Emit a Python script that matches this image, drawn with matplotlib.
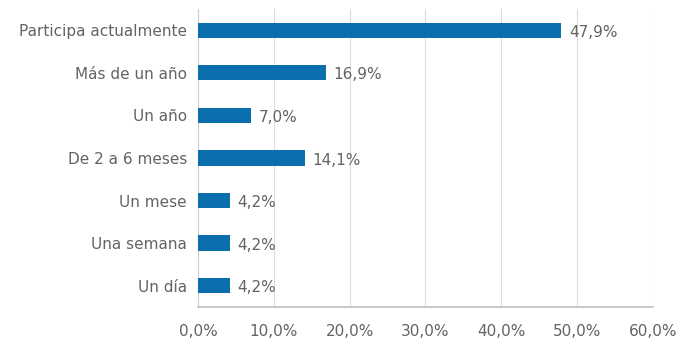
import matplotlib
matplotlib.use("Agg")
import matplotlib.pyplot as plt
from matplotlib.ticker import FuncFormatter

# Datos
categorias = ["Participa actualmente", "Más de un año", "Un año",
              "De 2 a 6 meses", "Un mese", "Una semana", "Un día"]
valores = [47.9, 16.9, 7.0, 14.1, 4.2, 4.2, 4.2]
ticks_x = [0, 10, 20, 30, 40, 50, 60]

azul = "#0b6fad"
gris_texto = "#636363"

plt.rcParams['font.family'] = ['DejaVu Sans']

fig = plt.figure(figsize=(6.79, 3.43), dpi=100)
ax = fig.add_axes([0.2916, 0.105, 0.6701, 0.869])

pos = list(range(len(categorias)))
ax.barh(pos, valores, height=0.36, color=azul, zorder=3)

# Etiquetas de valor
for p, v in zip(pos, valores):
    ax.text(v + 1.0, p + 0.05, f"{v:.1f}%".replace(".", ","), va="center", ha="left",
            fontsize=11, color=gris_texto)

ax.set_ylim(len(categorias) - 0.5, -0.5)
ax.set_xlim(0, 60)
ax.set_yticks(pos)
ax.set_yticklabels(categorias, fontsize=11, color=gris_texto)
ax.set_xticks(ticks_x)
ax.xaxis.set_major_formatter(FuncFormatter(lambda x, _: f"{x:.1f}%".replace(".", ",")))
ax.tick_params(axis="x", labelsize=11, labelcolor=gris_texto, length=0, pad=12)
ax.tick_params(axis="y", length=0, pad=8)

ax.grid(True, axis="x", color="#dcdcdc", linewidth=0.8, zorder=0)
for lado in ["top", "right"]:
    ax.spines[lado].set_visible(False)
ax.spines["left"].set_color("#d0d0d0")
ax.spines["bottom"].set_color("#bfbfbf")
ax.spines["bottom"].set_linewidth(1.2)

fig.savefig("out.png", dpi=100)
